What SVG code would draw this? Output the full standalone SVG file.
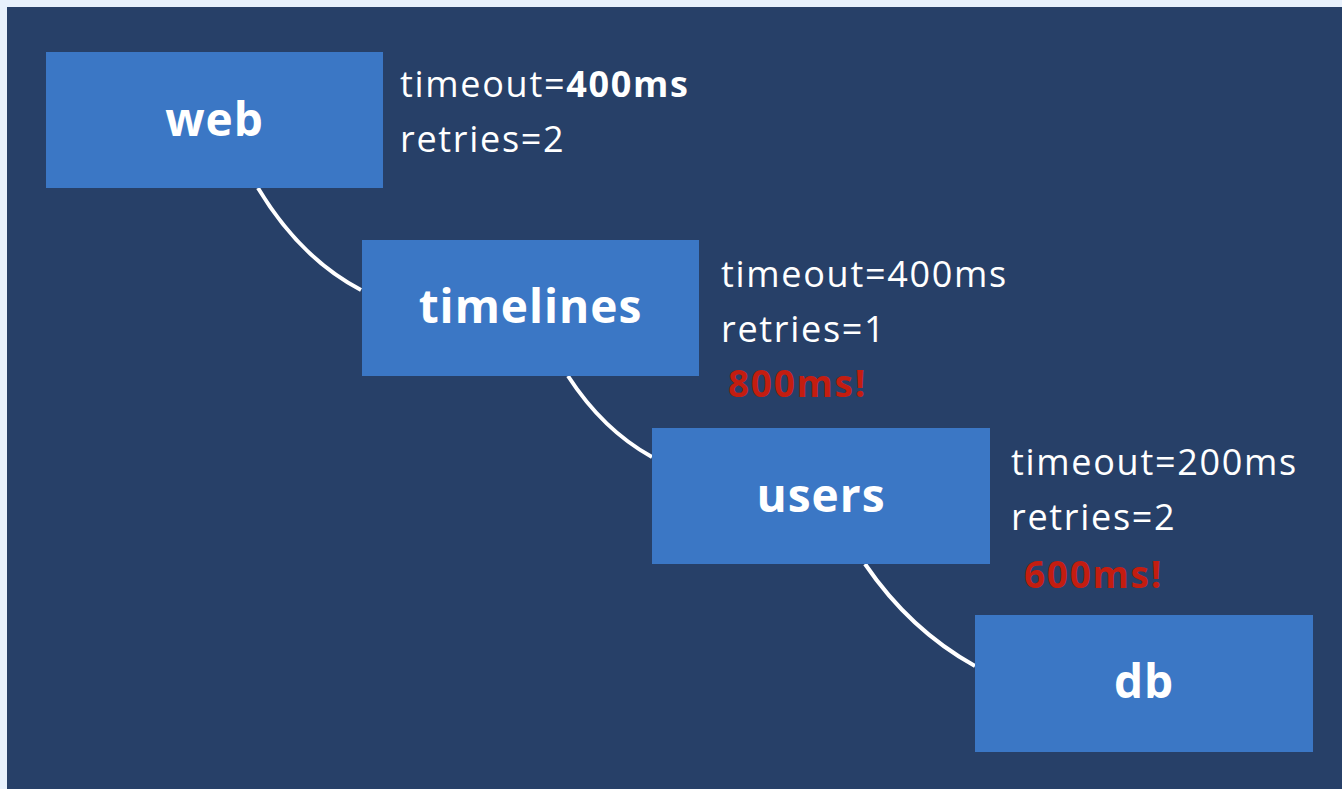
<svg xmlns="http://www.w3.org/2000/svg" width="1342" height="789" viewBox="0 0 1342 789">
<style>
.box{fill:#3b77c5}
.lbl{font-family:"Open Sans","DejaVu Sans",sans-serif;font-weight:700;font-size:46px;letter-spacing:1px;fill:#ffffff;text-anchor:middle}
.info{font-family:"Open Sans","DejaVu Sans",sans-serif;font-size:36px;letter-spacing:1.7px;fill:#ffffff}
.b{font-weight:700}
.warn{font-family:"Open Sans","DejaVu Sans",sans-serif;font-weight:700;font-size:37px;letter-spacing:1.7px;fill:#c41d10}
.conn{fill:none;stroke:#ffffff;stroke-width:4}
</style>
<rect x="0" y="0" width="1342" height="789" fill="#e8f1fc"/>
<rect x="7" y="7" width="1335" height="782" fill="#274068"/>
<g id="connectors">
<path class="conn" d="M258,188 Q300,258 361,290"/>
<path class="conn" d="M568,376 Q603,430 652,457"/>
<path class="conn" d="M865,564 Q910,630 975,666"/>
</g>
<g id="web">
<rect class="box" x="46" y="52" width="337" height="136"/>
<text class="lbl" x="214.5" y="136">web</text>
<text class="info" x="400" y="97">timeout=<tspan class="b">400ms</tspan></text>
<text class="info" x="400" y="152">retries=2</text>
</g>
<g id="timelines">
<rect class="box" x="362" y="240" width="337" height="136"/>
<text class="lbl" x="530.5" y="323">timelines</text>
<text class="info" x="721" y="287">timeout=400ms</text>
<text class="info" x="721" y="342">retries=1</text>
<text class="warn" x="728" y="397">800ms!</text>
</g>
<g id="users">
<rect class="box" x="652" y="428" width="338" height="136"/>
<text class="lbl" x="821" y="512">users</text>
<text class="info" x="1011" y="475">timeout=200ms</text>
<text class="info" x="1011" y="530">retries=2</text>
<text class="warn" x="1024" y="588">600ms!</text>
</g>
<g id="db">
<rect class="box" x="975" y="615" width="338" height="137"/>
<text class="lbl" x="1144" y="698">db</text>
</g>
</svg>
